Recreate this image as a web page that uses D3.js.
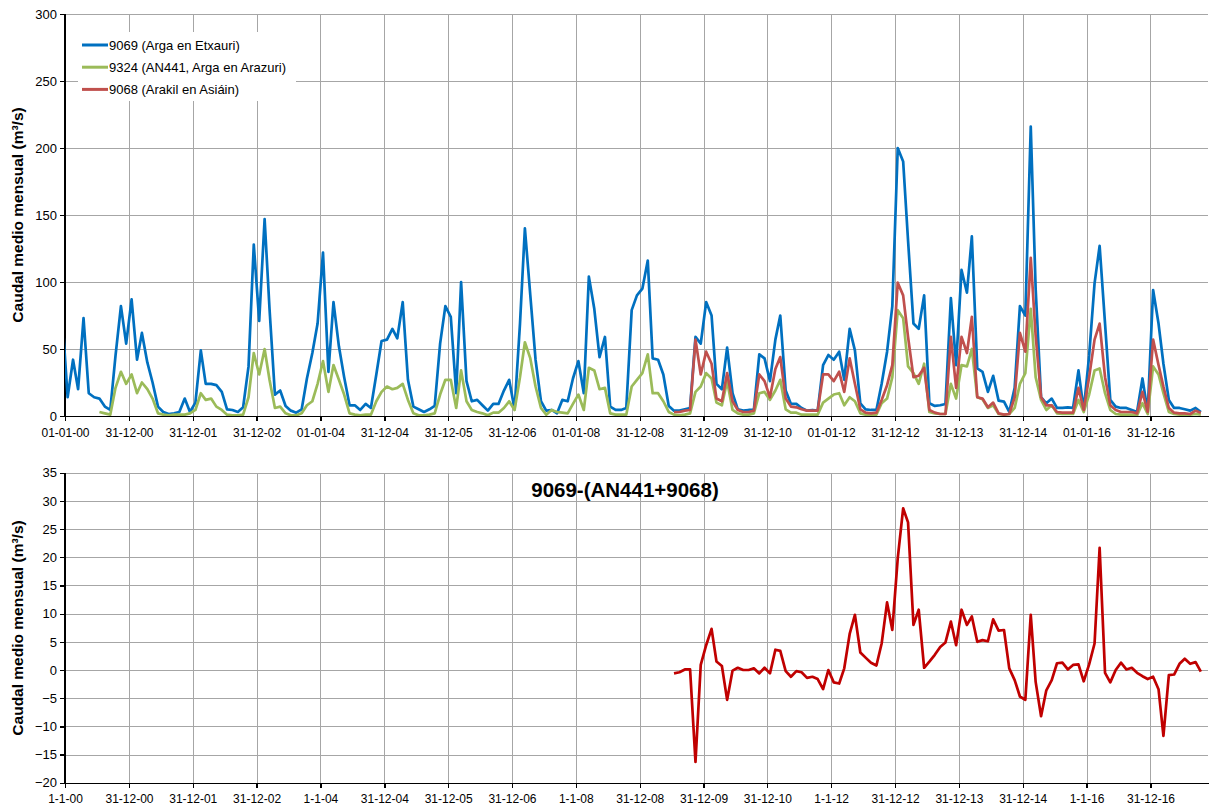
<!DOCTYPE html>
<html>
<head>
<meta charset="utf-8">
<script src="https://cdn.jsdelivr.net/npm/d3@7"></script>
<style>
  body { margin: 0; background: #fff; }
  svg { display: block; font-family: "Liberation Sans", Arial, sans-serif; }
  .grid line { stroke: #a6a6a6; stroke-width: 1; shape-rendering: crispEdges; }
  .axis path, .axis line { stroke: #000; stroke-width: 1.3; shape-rendering: crispEdges; }
  .axis text { font-size: 12px; fill: #000; }
  .series { fill: none; stroke-linejoin: round; stroke-width: 2.7; }
</style>
</head>
<body>
<div id="chart"></div>
<script>
// monthly means, Jan 2000 .. Oct 2017 (index 0 = Jan 2000)
var startYear = 2000;
var blueBefore = 75; // Dec 1999, only the clipped segment shows
var blue = [14,42,20,73,17,14,13,7,4.5,45,
  82,54,87,42,62,40,25,7,3,1.5,
  2,3,13,3,10,49,24,24,23,18,
  5,4.5,3,6.5,37,128,71,147,80,16,
  19,7.5,4,2.5,5,28,47,69,122,33,
  85,52,29,8,8,4.5,9,6,31,56,
  57,65,58,85,27,7,5,3,5,7.5,
  54,82,74,17,100,26,11,12,8,4,
  9,9,19,27,5,69,140,90,42,11,
  4,4.5,2,12,11,28,41,17,104,80,
  44,59,7,4.5,4.5,6,79,90,95,116,
  43,42,31,7.5,4,4,5,6,59,54,
  85,75,24,20,51,17,5,4,4.5,4.5,
  46,43,26,57,75,19,9,9,6,4,
  4.5,4,38,45.5,42,48,27,65,49,9.5,
  5,4.5,4.5,24,48,82,200,190,131,69,
  65,90,9.5,7.5,8,9,88,38,109,92,
  134,35.5,33,18,30,11.5,10.7,3,21,82,
  75,216,95,14,9.5,13,6,6,6.5,6,
  34,4.5,45,99,127,69,12,7,6,6,
  4.5,3,28,3,94,69,39,12,6,6,
  5,4,6,3];
var green = [null,null,null,null,null,null,3,2,1,21,
  33,24,31,17,25,20,13,2,1,0.5,
  1,1,1,2,4.5,17,12,13,7,4.5,
  1,0.5,0.5,1,14,47,31,50,27,6,
  7,2,0.5,0.5,2,8,11,24,41,18,
  38,27,16,2,1,0.5,1,1,11,18,
  22,20,21,24,12,2,0.5,0.5,1,2,
  16,27,27,6,34,11,4.5,3,2,0.5,
  2.5,2.5,6,11,4.5,29,55,43,22,6,
  1,4.5,3,2.5,2,9,16,4.5,36,34,
  20,21,2,1,1,1,22,27,32,46,
  17,17,11,3,1,0.5,1,2,18,22,
  32,28,10,8,26,4.5,2,1,1,2,
  17,18,12,19,27,5,2.5,2.5,1,1,
  1,1,10,13,16,17,8,14,11,2,
  1,1,1,9.5,13,29,79,73,37,32,
  24,39,3,2,1.5,1.5,24,13,38,37,
  50,14,12.5,6,8,1.5,1,1.5,6,24,
  32,80,29,12,4.5,8,2,1.5,1.5,1.5,
  12,3,16,34,35.5,17,4.5,1.5,1,1,
  1,0.5,9.5,1.5,37,31,17,3,1.5,1,
  1,1,1.5,1];
// 9068 and the difference start in Jul 2009 (index 114)
var redStart = 114;
var red = [3,3,4,4.5,57,31,
  48,39,13,11,32,11,4.5,3,3,4,
  31,26,14,35,44,13,7,6.5,5,4,
  4,4,31,31,26,33,18,43,24,5,
  2.5,2,2.5,12,23,38,99.5,90,59,29,
  30,36,4.5,2.5,1.5,1.5,59,21,59,47,
  74,14,13,6.5,10,2,1,1.5,14,62,
  48,118,60,14,8,8,3,2.5,2.5,2.5,
  21,4.5,29,57,69,29,8,4.5,3,3,
  3,2,18,3,57,38,22,6,2.5,2,
  2,1.5,4,2.5];
var diff = [-0.6,-0.4,0.1,0.1,-16.3,0.9,
  4.4,7.3,1.5,0.7,-5.3,-0.1,0.4,0,0,0.3,
  -0.6,0.4,-0.6,3.6,3.4,-0.2,-1.2,-0.2,-0.4,-1.4,
  -1.2,-1.6,-3.4,0,-2.2,-2.4,0.3,6.4,9.8,3.1,
  2.2,1.3,0.8,4.7,12,7.1,19.8,28.7,26.2,8,
  10.7,0.4,1.5,2.7,4.1,4.9,8.6,4.4,10.7,8,
  9.5,5,5.3,5.1,9,7,7.1,0.3,-1.8,-4.7,
  -5.3,9.8,-2.1,-8.2,-3.6,-1.8,1.2,1.3,0.1,0.9,
  1,-2,1,4.7,21.7,-0.5,-2.2,0,1.3,0.1,
  0.4,-0.5,-1.1,-1.6,-1.2,-3.4,-11.7,-0.9,-0.8,1.1,
  2,1.1,1.4,-0.3];

var seriesNames = ["9069 (Arga en Etxauri)", "9324 (AN441, Arga en Arazuri)", "9068 (Arakil en Asiáin)"];
var seriesColors = ["#0070C0", "#9BBB59", "#C0504D"];
var diffTitle = "9069-(AN441+9068)";
var diffColor = "#C00000";
var yTitle = "Caudal medio mensual (m³/s)";

var topXLabels = ["01-01-00","31-12-00","31-12-01","31-12-02","01-01-04","31-12-04","31-12-05","31-12-06","01-01-08","31-12-08","31-12-09","31-12-10","01-01-12","31-12-12","31-12-13","31-12-14","01-01-16","31-12-16"];
var botXLabels = ["1-1-00","31-12-00","31-12-01","31-12-02","1-1-04","31-12-04","31-12-05","31-12-06","1-1-08","31-12-08","31-12-09","31-12-10","1-1-12","31-12-12","31-12-13","31-12-14","1-1-16","31-12-16"];
var topYTicks = [0,50,100,150,200,250,300];
var botYTicks = [-20,-15,-10,-5,0,5,10,15,20,25,30,35];

var W = 1212, H = 805;
var svg = d3.select("#chart").append("svg").attr("width", W).attr("height", H);

var x = d3.scaleTime()
  .domain([new Date(2000,0,1), new Date(2017,10,26)])
  .range([65, 1208]);
var monthDate = function(i) { return new Date(startYear, i, 16); };
var tickDates = topXLabels.map(function(d, k) { return new Date(startYear + k, 0, 1); });

var yTop = d3.scaleLinear().domain([0,300]).range([416,14]);
var yBot = d3.scaleLinear().domain([-20,35]).range([782.7,472.8]);

function panel(y, yTicks, xLabels, id) {
  var g = svg.append("g");
  // gridlines
  var grid = g.append("g").attr("class","grid");
  grid.selectAll(".h").data(yTicks.slice(1)).enter().append("line")
    .attr("x1", x.range()[0]).attr("x2", x.range()[1])
    .attr("y1", function(d){ return Math.round(y(d)) + 0.5; })
    .attr("y2", function(d){ return Math.round(y(d)) + 0.5; });
  grid.selectAll(".v").data(tickDates.slice(1)).enter().append("line")
    .attr("x1", function(d){ return Math.round(x(d)) + 0.5; })
    .attr("x2", function(d){ return Math.round(x(d)) + 0.5; })
    .attr("y1", y.range()[0]).attr("y2", y.range()[1]);

  // clip
  svg.append("clipPath").attr("id", id).append("rect")
    .attr("x", x.range()[0]).attr("y", y.range()[1])
    .attr("width", x.range()[1] - x.range()[0]).attr("height", y.range()[0] - y.range()[1]);

  var ax = g.append("g").attr("class","axis")
    .attr("transform","translate(0," + y.range()[0] + ")")
    .call(d3.axisBottom(x).tickValues(tickDates).tickSize(5).tickSizeOuter(0)
      .tickFormat(function(d, k){ return xLabels[k]; }));
  ax.selectAll("text").attr("dy", "1.05em");
  var ay = g.append("g").attr("class","axis")
    .attr("transform","translate(" + x.range()[0] + ",0)")
    .call(d3.axisLeft(y).tickValues(yTicks).tickSize(5).tickSizeOuter(0));
  ay.selectAll("text").attr("x", -8).style("font-size", "13px");
  ay.select(".domain").attr("d", "M0," + y.range()[0] + "V" + y.range()[1]);
  return g;
}

var gTop = panel(yTop, topYTicks, topXLabels, "clipTop");
var gBot = panel(yBot, botYTicks, botXLabels, "clipBot");

// top series
var lineTop = d3.line()
  .defined(function(d){ return d.v != null; })
  .x(function(d){ return x(d.t); })
  .y(function(d){ return yTop(d.v); });

var blueData = [{t: monthDate(-1), v: blueBefore}].concat(blue.map(function(v, i){ return {t: monthDate(i), v: v}; }));
var greenData = green.map(function(v, i){ return {t: monthDate(i), v: v}; });
var redData = red.map(function(v, i){ return {t: monthDate(redStart + i), v: v}; });

var sTop = svg.append("g").attr("clip-path", "url(#clipTop)");
[blueData, greenData, redData].forEach(function(data, k) {
  sTop.append("path").attr("class","series")
    .attr("stroke", seriesColors[k])
    .attr("d", lineTop(data));
});

// legend
var leg = svg.append("g");
leg.append("rect").attr("x", 78).attr("y", 32).attr("width", 218).attr("height", 69).attr("fill", "#fff");
seriesNames.forEach(function(name, k) {
  var yy = 45 + k * 22.2;
  leg.append("line").attr("x1", 82).attr("x2", 108).attr("y1", yy).attr("y2", yy)
    .attr("stroke", seriesColors[k]).attr("stroke-width", 3);
  leg.append("text").attr("x", 109).attr("y", yy).attr("dy", "0.35em")
    .style("font-size", "13px").text(name);
});

// bottom series
var lineBot = d3.line()
  .x(function(d){ return x(d.t); })
  .y(function(d){ return yBot(d.v); });
var diffData = diff.map(function(v, i){ return {t: monthDate(redStart + i), v: v}; });
svg.append("g").attr("clip-path", "url(#clipBot)")
  .append("path").attr("class","series").attr("stroke", diffColor)
  .attr("d", lineBot(diffData));

svg.append("text").attr("x", 625).attr("y", 497).attr("text-anchor","middle")
  .style("font-size", "20.5px").style("font-weight", "bold").text(diffTitle);

// y titles
[[215], [628]].forEach(function(p) {
  svg.append("text")
    .attr("transform", "translate(23," + p[0] + ") rotate(-90)")
    .attr("text-anchor", "middle")
    .style("font-size", "15.5px").style("font-weight", "bold")
    .text(yTitle);
});
</script>
</body>
</html>
